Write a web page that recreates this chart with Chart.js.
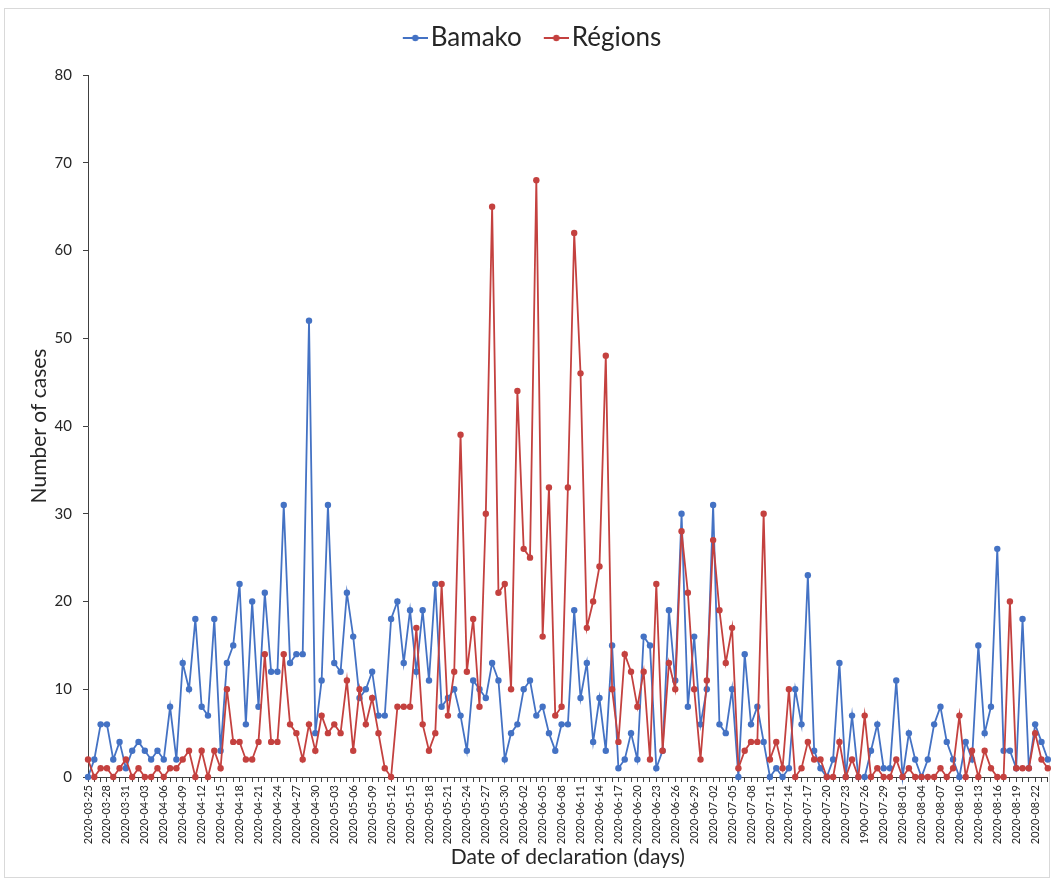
<!DOCTYPE html>
<html>
<head>
<meta charset="utf-8">
<script src="https://cdn.jsdelivr.net/npm/chart.js@4.4.1/dist/chart.umd.min.js"></script>
<style>
  html, body { margin: 0; padding: 0; background: #ffffff; }
  #frame { position: absolute; left: 4px; top: 8px; width: 1046px; height: 870px; border: 1px solid #d9d9d9; box-sizing: border-box; }
  #c { position: absolute; left: 0; top: 0; }
</style>
</head>
<body>
<div id="frame"></div>
<canvas id="c" width="1051" height="881"></canvas>
<script>
// Declaration dates (one per day); the 26 July entry carries the year typed in the source sheet
const categories = [
  '2020-03-25','2020-03-26','2020-03-27','2020-03-28','2020-03-29','2020-03-30','2020-03-31',
  '2020-04-01','2020-04-02','2020-04-03','2020-04-04','2020-04-05','2020-04-06','2020-04-07','2020-04-08','2020-04-09','2020-04-10',
  '2020-04-11','2020-04-12','2020-04-13','2020-04-14','2020-04-15','2020-04-16','2020-04-17','2020-04-18','2020-04-19','2020-04-20',
  '2020-04-21','2020-04-22','2020-04-23','2020-04-24','2020-04-25','2020-04-26','2020-04-27','2020-04-28','2020-04-29','2020-04-30',
  '2020-05-01','2020-05-02','2020-05-03','2020-05-04','2020-05-05','2020-05-06','2020-05-07','2020-05-08','2020-05-09','2020-05-10',
  '2020-05-11','2020-05-12','2020-05-13','2020-05-14','2020-05-15','2020-05-16','2020-05-17','2020-05-18','2020-05-19','2020-05-20',
  '2020-05-21','2020-05-22','2020-05-23','2020-05-24','2020-05-25','2020-05-26','2020-05-27','2020-05-28','2020-05-29','2020-05-30','2020-05-31',
  '2020-06-01','2020-06-02','2020-06-03','2020-06-04','2020-06-05','2020-06-06','2020-06-07','2020-06-08','2020-06-09','2020-06-10',
  '2020-06-11','2020-06-12','2020-06-13','2020-06-14','2020-06-15','2020-06-16','2020-06-17','2020-06-18','2020-06-19','2020-06-20',
  '2020-06-21','2020-06-22','2020-06-23','2020-06-24','2020-06-25','2020-06-26','2020-06-27','2020-06-28','2020-06-29','2020-06-30',
  '2020-07-01','2020-07-02','2020-07-03','2020-07-04','2020-07-05','2020-07-06','2020-07-07','2020-07-08','2020-07-09','2020-07-10',
  '2020-07-11','2020-07-12','2020-07-13','2020-07-14','2020-07-15','2020-07-16','2020-07-17','2020-07-18','2020-07-19','2020-07-20',
  '2020-07-21','2020-07-22','2020-07-23','2020-07-24','2020-07-25','1900-07-26','2020-07-27','2020-07-28','2020-07-29','2020-07-30','2020-07-31',
  '2020-08-01','2020-08-02','2020-08-03','2020-08-04','2020-08-05','2020-08-06','2020-08-07','2020-08-08','2020-08-09','2020-08-10',
  '2020-08-11','2020-08-12','2020-08-13','2020-08-14','2020-08-15','2020-08-16','2020-08-17','2020-08-18','2020-08-19','2020-08-20',
  '2020-08-21','2020-08-22','2020-08-23','2020-08-24'
];

// Daily declared cases, Bamako
const bamako = [
  0, 2, 6, 6, 2, 4, 1, 3, 4, 3,
  2, 3, 2, 8, 2, 13, 10, 18, 8, 7,
  18, 3, 13, 15, 22, 6, 20, 8, 21, 12,
  12, 31, 13, 14, 14, 52, 5, 11, 31, 13,
  12, 21, 16, 9, 10, 12, 7, 7, 18, 20,
  13, 19, 12, 19, 11, 22, 8, 9, 10, 7,
  3, 11, 10, 9, 13, 11, 2, 5, 6, 10,
  11, 7, 8, 5, 3, 6, 6, 19, 9, 13,
  4, 9, 3, 15, 1, 2, 5, 2, 16, 15,
  1, 3, 19, 11, 30, 8, 16, 6, 10, 31,
  6, 5, 10, 0, 14, 6, 8, 4, 0, 1,
  0, 1, 10, 6, 23, 3, 1, 0, 2, 13,
  0, 7, 0, 0, 3, 6, 1, 1, 11, 0,
  5, 2, 0, 2, 6, 8, 4, 2, 0, 4,
  2, 15, 5, 8, 26, 3, 3, 1, 18, 1,
  6, 4, 2
];

// Daily declared cases, other regions
const regions = [
  2, 0, 1, 1, 0, 1, 2, 0, 1, 0,
  0, 1, 0, 1, 1, 2, 3, 0, 3, 0,
  3, 1, 10, 4, 4, 2, 2, 4, 14, 4,
  4, 14, 6, 5, 2, 6, 3, 7, 5, 6,
  5, 11, 3, 10, 6, 9, 5, 1, 0, 8,
  8, 8, 17, 6, 3, 5, 22, 7, 12, 39,
  12, 18, 8, 30, 65, 21, 22, 10, 44, 26,
  25, 68, 16, 33, 7, 8, 33, 62, 46, 17,
  20, 24, 48, 10, 4, 14, 12, 8, 12, 2,
  22, 3, 13, 10, 28, 21, 10, 2, 11, 27,
  19, 13, 17, 1, 3, 4, 4, 30, 2, 4,
  1, 10, 0, 1, 4, 2, 2, 0, 0, 4,
  0, 2, 0, 7, 0, 1, 0, 0, 2, 0,
  1, 0, 0, 0, 0, 1, 0, 1, 7, 0,
  3, 0, 3, 1, 0, 0, 20, 1, 1, 1,
  5, 2, 1
];

const seriesNames = ['Bamako', 'Régions'];
const seriesColors = ['#4472C4', '#C4413F'];
const yTicks = { min: 0, max: 80, step: 10 };
const tickEvery = 3;

const FONT = 'Lato, "Open Sans", "DejaVu Sans", sans-serif';
const TEXT = '#262626';
const AXIS = '#404040';

// Legend key: a short line with a dot, drawn at the right end of the swatch
function legendSwatch(color) {
  const c = document.createElement('canvas');
  c.width = 47; c.height = 12;
  const g = c.getContext('2d');
  g.strokeStyle = color; g.lineWidth = 2;
  g.beginPath(); g.moveTo(22, 6); g.lineTo(47, 6); g.stroke();
  g.fillStyle = color;
  g.beginPath(); g.arc(34.5, 6, 3.2, 0, Math.PI * 2); g.fill();
  return c;
}
const swatches = seriesColors.map(legendSwatch);

// Extra room between the legend and the plot
const legendGap = {
  id: 'legendGap',
  beforeInit(chart) {
    const fit = chart.legend.fit;
    chart.legend.fit = function () { fit.bind(chart.legend)(); this.height += 14; };
  }
};

function lineSet(label, data, color, order) {
  return {
    label, data, order,
    borderColor: color,
    backgroundColor: color,
    borderWidth: 1.8,
    pointRadius: 3.2,
    pointHoverRadius: 3.2,
    pointBackgroundColor: color,
    pointBorderWidth: 0,
    tension: 0,
    clip: false
  };
}

new Chart(document.getElementById('c'), {
  type: 'line',
  data: {
    labels: categories,
    datasets: [
      lineSet(seriesNames[0], bamako, seriesColors[0], 2),
      lineSet(seriesNames[1], regions, seriesColors[1], 1)
    ]
  },
  plugins: [legendGap],
  options: {
    responsive: false,
    animation: false,
    devicePixelRatio: 1,
    layout: { padding: { left: 4, right: 3, top: 15, bottom: 3 } },
    plugins: {
      tooltip: { enabled: false },
      legend: {
        position: 'top',
        align: 'center',
        labels: {
          usePointStyle: true,
          pointStyleWidth: 27,
          padding: 10,
          color: TEXT,
          font: { family: FONT, size: 26 },
          generateLabels(chart) {
            return chart.data.datasets.map((ds, i) => ({
              text: ds.label,
              datasetIndex: i,
              pointStyle: swatches[i],
              fillStyle: ds.borderColor,
              strokeStyle: ds.borderColor,
              lineWidth: 0,
              hidden: false,
              fontColor: TEXT
            }));
          }
        }
      }
    },
    scales: {
      x: {
        type: 'category',
        offset: false,
        grid: { drawOnChartArea: false, drawTicks: true, tickLength: 5, color: AXIS },
        border: { display: true, color: AXIS, width: 1 },
        ticks: {
          autoSkip: false,
          minRotation: 90,
          maxRotation: 90,
          padding: 3,
          color: TEXT,
          font: { family: FONT, size: 11 },
          callback(value, index) { return index % tickEvery === 0 ? categories[index] : ''; }
        },
        title: {
          display: true,
          text: 'Date of declaration (days)',
          color: TEXT,
          font: { family: FONT, size: 21 },
          padding: { top: 0, bottom: 8 }
        },
        afterFit(scale) {
          scale.height = 101;
          scale.paddingLeft = 0;
          scale.paddingRight = 0;
        }
      },
      y: {
        min: yTicks.min,
        max: yTicks.max,
        grid: { drawOnChartArea: false, drawTicks: true, tickLength: 5, color: AXIS },
        border: { display: true, color: AXIS, width: 1 },
        ticks: {
          stepSize: yTicks.step,
          padding: 11,
          color: TEXT,
          font: { family: FONT, size: 15 }
        },
        title: {
          display: true,
          text: 'Number of cases',
          color: TEXT,
          font: { family: FONT, size: 21 },
          padding: { top: 23, bottom: 0 }
        },
        afterFit(scale) { scale.width = 84; }
      }
    }
  }
});
</script>
</body>
</html>
